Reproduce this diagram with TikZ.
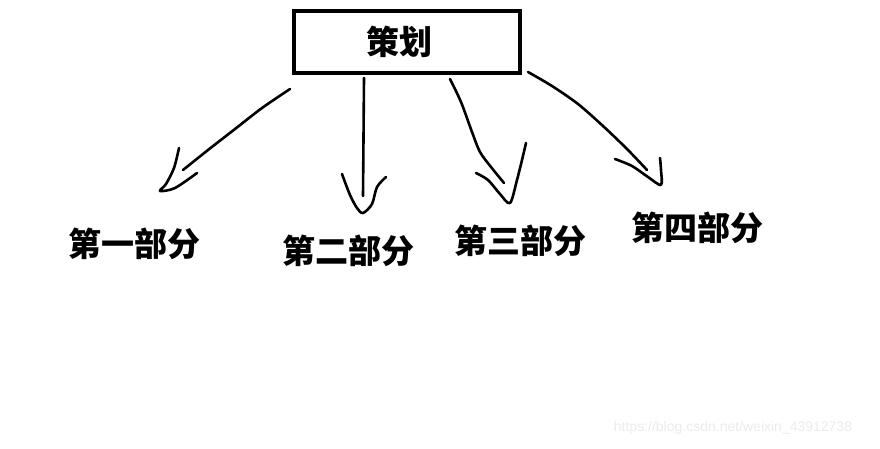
\documentclass[tikz,border=0pt]{standalone}
\usepackage{fontspec}
\newfontfamily\cjk{Noto Sans CJK SC}
\newfontfamily\wm{Liberation Sans}
\begin{document}
\begin{tikzpicture}[x=1pt,y=-1pt,
  hand/.style={line width=2.6pt,line cap=round,line join=round},
  lbl/.style={font=\cjk\bfseries\fontsize{33}{33}\selectfont,inner sep=0pt},
  planbox/.style={draw,line width=4pt,minimum width=226pt,minimum height=62pt,inner sep=0pt}]
\useasboundingbox (0,0) rectangle (880,448);
\node[planbox] (plan) at (406.5,41.5) {};
\node[font=\cjk\bfseries\fontsize{33}{33}\selectfont,inner sep=0pt] (plantext) at (399,42) {策划};
\node[lbl] (p1) at (134,244) {第一部分};
\node[lbl] (p2) at (348,251) {第二部分};
\node[lbl] (p3) at (520,241) {第三部分};
\node[lbl] (p4) at (697,228) {第四部分};
\node[font=\wm\fontsize{14}{14}\selectfont,text=black!8,inner sep=0pt] (wmk) at (733,428) {https://blog.csdn.net/weixin\_43912738};
% arrow 1
\draw[hand] plot[smooth] coordinates {(290,89) (262,108) (235,129) (208,150) (183,170)};
\draw[hand] plot[smooth] coordinates {(179,148) (174,168) (166,184) (160,191) (175,188) (197,173)};
% arrow 2
\draw[hand] (364,78) -- (363,196);
\draw[hand] plot[smooth] coordinates {(342,174) (350,195) (357,208) (363,213) (372,204) (377,187) (386,177)};
% arrow 3
\draw[hand] plot[smooth] coordinates {(450,79) (461,102) (472,132) (480,152) (491,167) (504,183)};
\draw[hand] plot[smooth] coordinates {(476,173) (488,180) (500,194) (510,203) (517,180) (522,160) (526,143)};
% arrow 4
\draw[hand] plot[smooth] coordinates {(528,72) (552,86) (578,104) (603,126) (627,149) (647,170)};
\draw[hand] plot[smooth] coordinates {(615,159) (632,166) (648,177) (661,185) (661,170) (660,158)};
\end{tikzpicture}
\end{document}
